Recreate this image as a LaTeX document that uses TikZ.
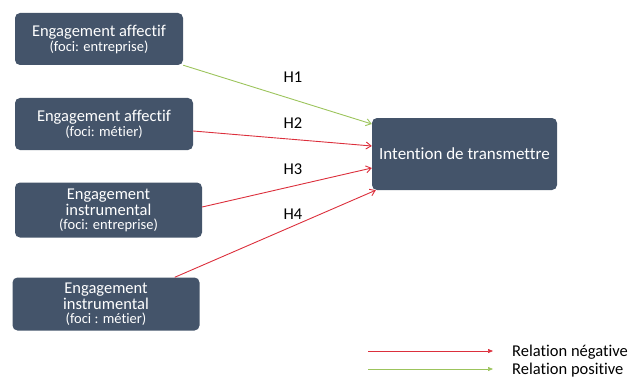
\documentclass[tikz,border=0pt]{standalone}
\usepackage{fontspec}
\setmainfont{Carlito}[Ligatures={NoCommon}]
\usetikzlibrary{arrows.meta,calc}

\newcommand{\focitxt}{\fontsize{14.5}{14}\selectfont}
\tikzset{
  boite/.style={draw=none,fill=slate,rounded corners=5pt,text=white,align=center,
                font=\fontsize{16.5}{16}\selectfont,inner sep=2pt},
  relneg/.style={draw=rouge,line width=0.9pt,-{Straight Barb[length=5pt,width=7pt]}},
  relpos/.style={draw=vert,line width=0.9pt,-{Straight Barb[length=5pt,width=7pt]}},
  hyp/.style={font=\fontsize{16.5}{17}\selectfont,inner sep=0pt},
  legende/.style={anchor=west,font=\fontsize{16.5}{17}\selectfont,inner sep=0pt}
}
\definecolor{slate}{HTML}{44546A}
\definecolor{rouge}{HTML}{DC2F3C}
\definecolor{vert}{HTML}{9CC45C}

\begin{document}
\begin{tikzpicture}[x=1pt,y=1pt]
  \useasboundingbox (0,0) rectangle (637,381);
  %BOITES A GAUCHE
  \node[boite,minimum width=168pt,minimum height=52pt] (b1) at (99,342)
     {Engagement affectif\\[-1pt]{\focitxt(foci: entreprise)}};
  \node[boite,minimum width=178pt,minimum height=52pt] (b2) at (104,257)
     {Engagement affectif\\[-1pt]{\focitxt(foci: métier)}};
  \node[boite,minimum width=187pt,minimum height=55pt] (b3) at (108.5,171)
     {Engagement\\instrumental\\[-2pt]{\focitxt(foci: entreprise)}};
  \node[boite,minimum width=187pt,minimum height=53pt] (b4) at (106,77)
     {Engagement\\instrumental\\[-2pt]{\focitxt(foci : métier)}};
  %BOITE CIBLE
  \node[boite,minimum width=185pt,minimum height=72pt,font=\fontsize{17}{18}\selectfont] (t) at (464.5,227)
     {Intention de transmettre};
  %FLECHES
  \draw[relpos] (b1.south east) -- ([yshift=30pt]t.west);
  \draw[relneg] ([yshift=-7pt]b2.east) -- ([yshift=8pt]t.west);
  \draw[relneg] ([yshift=3pt]b3.east) -- ([yshift=-14pt]t.west);
  \draw[relneg] ([xshift=-25pt]b4.north east) -- ([xshift=4pt]t.south west);
  %HYPOTHESES
  \node[hyp] (h1) at (293,304) {H1};
  \node[hyp] (h2) at (293,258) {H2};
  \node[hyp] (h3) at (293,212) {H3};
  \node[hyp] (h4) at (293,167) {H4};
  %LEGENDE
  \coordinate (negA) at (368,30);
  \coordinate (posA) at (368,12);
  \node[legende] (negT) at (512,29) {Relation négative};
  \node[legende] (posT) at (512,11) {Relation positive};
  \draw[rouge,line width=0.6pt,-{Triangle[length=5pt,width=4pt]}] (negA) -- (493,30);
  \draw[vert,line width=0.6pt,-{Triangle[length=5pt,width=4pt]}] (posA) -- (493,12);
\end{tikzpicture}
\end{document}
